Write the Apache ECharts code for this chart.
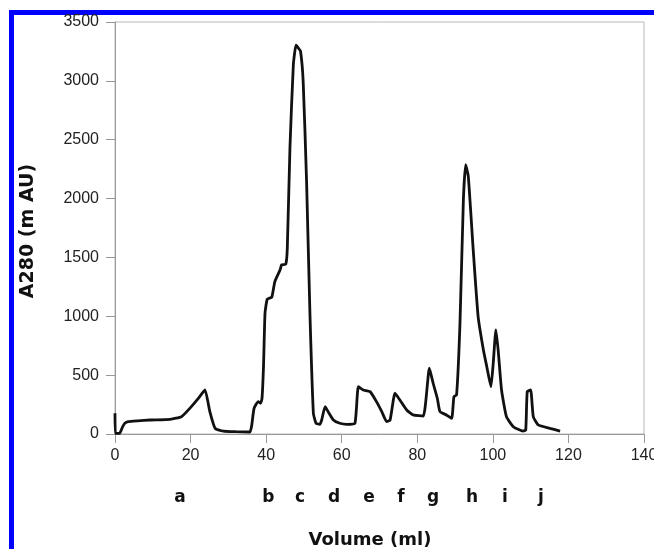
<!DOCTYPE html>
<html>
<head>
<meta charset="utf-8">
<script src="https://cdn.jsdelivr.net/npm/echarts@6/dist/echarts.min.js"></script>
<style>
  html, body { margin: 0; padding: 0; background: #fff; }
  #chart { width: 654px; height: 549px; }
</style>
</head>
<body>
<div id="chart"></div>
<script>
// elution volume (ml) and absorbance at 280 nm (mAU)
var volume = [0, 0.1, 1.2, 2.0, 2.6, 3.5, 6, 9.3, 14.6, 17.6, 19.8, 22, 23.8, 25.1, 26.5, 28.7, 32, 35.7,
  36.2, 36.8, 37.9, 38.5, 38.9, 39.3, 39.7, 40.3, 41.5, 42.3, 43.7, 44.1, 45.2, 45.6, 46.3, 47.2, 47.9,
  48.5, 49.1, 49.8, 50.7, 51.6, 52.5, 53.2, 54.2, 54.7, 55.6, 56.4, 57.8, 59.5, 61.3, 63.5, 64.4, 65.7,
  67.5, 69.2, 70.6, 71.9, 72.8, 74.1, 75.4, 77.2, 78.9, 81.6, 83.2, 84.2, 85.3, 86.0, 87.7, 89.1, 89.7,
  90.4, 91.3, 92.2, 92.8, 93.5, 94.8, 96.1, 97.5, 98.4, 99.5, 100.1, 100.8, 101.4, 102.3, 103.6, 105.4,
  108.0, 108.7, 109.1, 110.0, 110.7, 112.0, 115.1, 117.8];
var absorbance = [176, 5, 5, 60, 91, 105, 112, 119, 125, 147, 218, 300, 374, 190, 48, 25, 20, 17,
  77, 218, 275, 261, 300, 572, 1026, 1146, 1163, 1295, 1395, 1437, 1443, 1579, 2430, 3138, 3303,
  3280, 3252, 2996, 2146, 1012, 176, 91, 82, 119, 232, 190, 119, 91, 82, 91, 402, 374,
  360, 275, 190, 105, 119, 346, 289, 204, 162, 153, 559, 431, 304, 190, 162, 133, 317,
  332, 941, 1990, 2288, 2188, 1565, 998, 714, 572, 402, 601, 885, 714, 374, 147, 62,
  25, 34, 360, 374, 147, 77, 48, 25];

// fraction letters under the x axis
var fractionLabels = ['a', 'b', 'c', 'd', 'e', 'f', 'g', 'h', 'i', 'j'];
var fractionVolumes = [17.2, 40.6, 49.0, 58.0, 67.2, 75.7, 84.2, 94.5, 103.2, 112.7];

var xTicks = [0, 20, 40, 60, 80, 100, 120, 140];
var yTicks = [0, 500, 1000, 1500, 2000, 2500, 3000, 3500];

var points = volume.map(function (v, i) { return [v, absorbance[i]]; });

var myChart = echarts.init(document.getElementById('chart'), null, { renderer: 'canvas' });

var tickFont = { fontFamily: 'Liberation Sans', fontSize: 16, color: '#222' };
function plain(v) { return String(v); }

var option = {
  backgroundColor: '#fff',
  animation: false,
  grid: {
    left: 115, right: 10, top: 22, bottom: 115,
    outerBoundsMode: 'none',
    show: true, borderColor: '#b8b8b8', borderWidth: 1
  },
  xAxis: {
    type: 'value',
    min: xTicks[0], max: xTicks[xTicks.length - 1], interval: 20,
    axisLine: { lineStyle: { color: '#999', width: 1 } },
    axisTick: { show: true, length: 9, lineStyle: { color: '#999' } },
    axisLabel: Object.assign({ margin: 14, formatter: plain }, tickFont),
    splitLine: { show: false }
  },
  yAxis: {
    type: 'value',
    min: yTicks[0], max: yTicks[yTicks.length - 1], interval: 500,
    axisLine: { show: true, lineStyle: { color: '#999', width: 1 } },
    axisTick: { show: true, length: 9, lineStyle: { color: '#999' } },
    axisLabel: Object.assign({ margin: 16, formatter: plain }, tickFont),
    splitLine: { show: false }
  },
  series: [{
    type: 'line',
    data: points,
    showSymbol: false,
    smooth: 0.15,
    lineStyle: { color: '#111', width: 2.8 }
  }]
};

myChart.setOption(option);

var graphics = [
  // blue frame
  { type: 'rect', shape: { x: 9, y: 10, width: 645, height: 5 }, style: { fill: '#0000ff' } },
  { type: 'rect', shape: { x: 9, y: 10, width: 5, height: 539 }, style: { fill: '#0000ff' } },
  {
    type: 'text', x: 28, y: 231, rotation: Math.PI / 2,
    style: { text: 'A280 (m AU)', font: 'bold 19px "DejaVu Sans"', fill: '#111', align: 'center', verticalAlign: 'middle' }
  },
  {
    type: 'text', x: 370, y: 540,
    style: { text: 'Volume (ml)', font: 'bold 18px "DejaVu Sans"', fill: '#111', align: 'center', verticalAlign: 'middle' }
  }
];
fractionLabels.forEach(function (lab, i) {
  var px = myChart.convertToPixel({ xAxisIndex: 0 }, fractionVolumes[i]);
  graphics.push({
    type: 'text', x: px, y: 498,
    style: { text: lab, font: 'bold 17px "DejaVu Sans"', fill: '#111', align: 'center', verticalAlign: 'middle' }
  });
});
myChart.setOption({ graphic: graphics });

window.addEventListener('resize', myChart.resize);
</script>
</body>
</html>
